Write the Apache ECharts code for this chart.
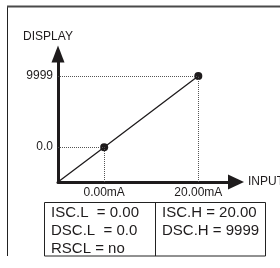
<!DOCTYPE html>
<html lang="en">
<head>
<meta charset="UTF-8" />
<title>Scaling</title>
<style>
  html, body { margin: 0; padding: 0; background: #fff; }
  #main { width: 280px; height: 268px; }
</style>
</head>
<body>
<div id="main"></div>
<script src="https://cdn.jsdelivr.net/npm/echarts@6/dist/echarts.min.js"></script>
<script>
  // two calibration points: input (mA) -> display value
  var inputs = [0.00, 20.00];
  var displays = [0.0, 9999];
  var inputLabels = ['0.00mA', '20.00mA'];
  var displayLabels = ['0.0', '9999'];
  var leftRows = ['ISC.L  = 0.00', 'DSC.L  = 0.0', 'RSCL = no'];
  var rightRows = ['ISC.H = 20.00', 'DSC.H = 9999'];

  // axis range so the line starts at the origin corner
  var xMin = -9.8, xMax = 28;
  var slope = (displays[1] - displays[0]) / (inputs[1] - inputs[0]);
  var yMin = displays[0] + (xMin - inputs[0]) * slope;
  var yMax = 13100;

  var ink = '#1e1b1c';
  var font = '"Liberation Sans", Arial, sans-serif';

  var lineData = [{ value: [xMin, yMin], symbol: 'none' }];
  var guides = [];
  for (var i = 0; i < inputs.length; i++) {
    lineData.push([inputs[i], displays[i]]);
    guides.push([{ coord: [xMin, displays[i]] }, { coord: [inputs[i], displays[i]] }]);
    guides.push([{ coord: [inputs[i], yMin] }, { coord: [inputs[i], displays[i]] }]);
  }

  var texts = [];
  leftRows.forEach(function (t, k) {
    texts.push({ type: 'text', x: 51, y: 213 + k * 18, style: { text: t, fontSize: 15, fontFamily: font, fill: ink, verticalAlign: 'middle' } });
  });
  rightRows.forEach(function (t, k) {
    texts.push({ type: 'text', x: 162, y: 213 + k * 18, style: { text: t, fontSize: 15, fontFamily: font, fill: ink, verticalAlign: 'middle' } });
  });

  var myChart = echarts.init(document.getElementById('main'));
  var option = {
    animation: false,
    backgroundColor: '#fff',
    grid: { left: 58, right: 44, top: 54, bottom: 86, outerBoundsMode: 'none', containLabel: false },
    xAxis: {
      type: 'value', min: xMin, max: xMax,
      name: 'INPUT', nameLocation: 'end', nameGap: 12,
      nameTextStyle: { color: ink, fontSize: 12, fontFamily: font, verticalAlign: 'middle', padding: [0, 0, 2, 0] },
      splitLine: { show: false },
      axisTick: { show: false },
      axisLine: { onZero: false, symbol: ['none', 'triangle'], symbolSize: [15, 16], lineStyle: { color: ink, width: 3 } },
      axisLabel: {
        customValues: inputs, margin: 5, color: ink, fontSize: 12, fontFamily: font,
        formatter: function (v) { return inputLabels[inputs.indexOf(v)]; }
      }
    },
    yAxis: {
      type: 'value', min: yMin, max: yMax,
      name: 'DISPLAY', nameLocation: 'end', nameGap: 11,
      nameTextStyle: { color: ink, fontSize: 12, fontFamily: font, align: 'center', padding: [0, 20, 0, 0] },
      splitLine: { show: false },
      axisTick: { show: false },
      axisLine: { onZero: false, symbol: ['none', 'triangle'], symbolSize: [13, 17], lineStyle: { color: ink, width: 3 } },
      axisLabel: {
        customValues: displays, margin: 5, color: ink, fontSize: 12, fontFamily: font,
        formatter: function (v) { return displayLabels[displays.indexOf(v)]; }
      }
    },
    series: [{
      type: 'line',
      data: lineData,
      symbol: 'circle', symbolSize: 8,
      itemStyle: { color: ink },
      lineStyle: { color: ink, width: 1.3 },
      markLine: {
        silent: true, symbol: ['none', 'none'],
        label: { show: false },
        lineStyle: { color: '#555', width: 1, type: 'dotted' },
        data: guides
      },
      z: 3
    }],
    graphic: [
      { type: 'line', shape: { x1: 7.5, y1: 6, x2: 7.5, y2: 256 }, style: { stroke: '#222', lineWidth: 1 } },
      { type: 'line', shape: { x1: 7, y1: 6.5, x2: 280, y2: 6.5 }, style: { stroke: '#4a4a4a', lineWidth: 2 } },
      { type: 'rect', shape: { x: 44.5, y: 202.5, width: 221, height: 53.5 }, style: { fill: 'none', stroke: '#222', lineWidth: 1 } },
      { type: 'line', shape: { x1: 155.5, y1: 202.5, x2: 155.5, y2: 256 }, style: { stroke: '#222', lineWidth: 1 } }
    ].concat(texts)
  };
  myChart.setOption(option);
</script>
</body>
</html>
